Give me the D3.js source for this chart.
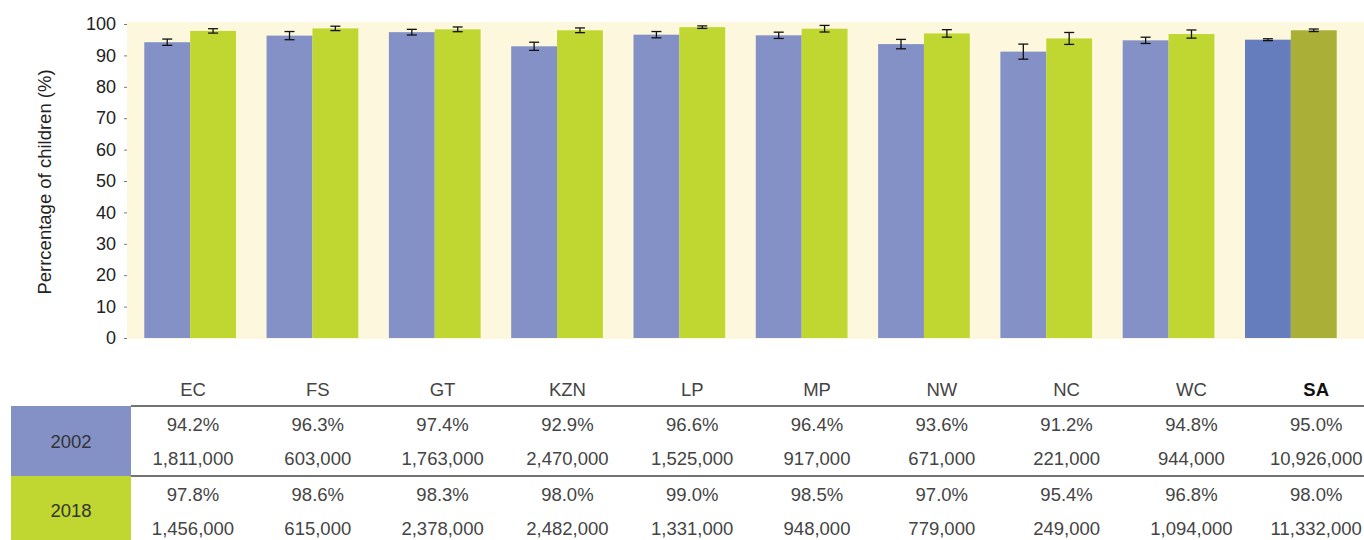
<!DOCTYPE html>
<html>
<head>
<meta charset="utf-8">
<script src="https://cdn.jsdelivr.net/npm/d3@7"></script>
<style>
  html, body { margin: 0; padding: 0; background: #ffffff; }
  svg { display: block; font-family: "Liberation Sans", Arial, Helvetica, sans-serif; }
</style>
</head>
<body>
<svg id="chart" width="1364" height="540"></svg>
<script>
// Provinces plus the national total (SA)
const provinces = ["EC", "FS", "GT", "KZN", "LP", "MP", "NW", "NC", "WC", "SA"];
const years = ["2002", "2018"];

// Percentage of children per province and year
const pct2002 = [94.2, 96.3, 97.4, 92.9, 96.6, 96.4, 93.6, 91.2, 94.8, 95.0];
const pct2018 = [97.8, 98.6, 98.3, 98.0, 99.0, 98.5, 97.0, 95.4, 96.8, 98.0];

// Confidence interval half-widths (percentage points)
const ci2002 = [1.0, 1.3, 0.9, 1.3, 1.0, 1.0, 1.5, 2.4, 1.0, 0.3];
const ci2018 = [0.7, 0.7, 0.75, 0.75, 0.4, 1.05, 1.2, 1.9, 1.3, 0.4];

// Number of children
const count2002 = [1811000, 603000, 1763000, 2470000, 1525000, 917000, 671000, 221000, 944000, 10926000];
const count2018 = [1456000, 615000, 2378000, 2482000, 1331000, 948000, 779000, 249000, 1094000, 11332000];

const yTicks = [0, 10, 20, 30, 40, 50, 60, 70, 80, 90, 100];
const yTitle = "Perrcentage of children (%)";

const colors = {
  "2002": "#8391c7", "2018": "#bfd730",
  "SA2002": "#657cbd", "SA2018": "#a9af37"
};

const rows = provinces.map((p, i) => ({
  prov: p,
  values: [
    { year: "2002", v: pct2002[i], ci: ci2002[i], n: count2002[i] },
    { year: "2018", v: pct2018[i], ci: ci2018[i], n: count2018[i] }
  ]
}));

const svg = d3.select("#chart");
const textColor = "#444";

// ---- Plot area ----
const plot = { left: 127, right: 1364, top: 22, bottom: 339 };

svg.append("rect")
  .attr("x", plot.left).attr("y", plot.top)
  .attr("width", plot.right - plot.left).attr("height", plot.bottom - plot.top)
  .attr("fill", "#fdf7dd");

const y = d3.scaleLinear().domain([0, 100]).range([338, 24]);

const x = d3.scaleBand().domain(provinces).range([129, 1352])
  .paddingInner(0.25).paddingOuter(0.125);

const xYear = d3.scaleBand().domain(years).range([0, x.bandwidth()]);

// Y axis
const yAxis = svg.append("g")
  .attr("transform", `translate(${plot.left},0)`)
  .call(d3.axisLeft(y).tickValues(yTicks).tickSize(3).tickPadding(8));
yAxis.select(".domain").remove();
yAxis.selectAll(".tick line").attr("stroke", "#777");
yAxis.selectAll(".tick text")
  .attr("fill", "#222")
  .style("font-size", "18px")
  .style("font-family", "\"Liberation Sans\", Arial, sans-serif");

svg.append("text")
  .attr("transform", "translate(51,182) rotate(-90)")
  .attr("text-anchor", "middle")
  .attr("fill", "#222")
  .style("font-size", "18.5px")
  .text(yTitle);

// Bars
const groups = svg.append("g").selectAll("g")
  .data(rows).join("g")
  .attr("transform", d => `translate(${x(d.prov)},0)`);

groups.selectAll("rect")
  .data(d => d.values.map(v => ({ ...v, prov: d.prov })))
  .join("rect")
  .attr("x", d => xYear(d.year))
  .attr("y", d => y(d.v))
  .attr("width", xYear.bandwidth())
  .attr("height", d => y(0) - y(d.v))
  .attr("fill", d => d.prov === "SA" ? colors["SA" + d.year] : colors[d.year]);

// Error bars
const capHalf = 5;
const eb = groups.selectAll("g.err")
  .data(d => d.values)
  .join("g").attr("class", "err")
  .attr("transform", d => `translate(${xYear(d.year) + xYear.bandwidth() / 2},0)`)
  .attr("stroke", "#111").attr("stroke-width", 1.3);
eb.append("line")
  .attr("x1", 0).attr("x2", 0)
  .attr("y1", d => y(d.v + d.ci)).attr("y2", d => y(d.v - d.ci));
eb.append("line")
  .attr("x1", -capHalf).attr("x2", capHalf)
  .attr("y1", d => y(d.v + d.ci)).attr("y2", d => y(d.v + d.ci));
eb.append("line")
  .attr("x1", -capHalf).attr("x2", capHalf)
  .attr("y1", d => y(d.v - d.ci)).attr("y2", d => y(d.v - d.ci));

// ---- Data table ----
const col = d3.scaleBand().domain(provinces).range([130.6, 1378.6]);
const colCenter = p => col(p) + col.bandwidth() / 2;
const fmtPct = d3.format(".1f");
const fmtN = d3.format(",");

const table = svg.append("g").style("font-size", "18.5px");

// Row header cells
const rowHeads = [
  { year: "2002", y0: 406, y1: 476, base: 448 },
  { year: "2018", y0: 476, y1: 540, base: 517 }
];
table.selectAll("rect.head")
  .data(rowHeads).join("rect").attr("class", "head")
  .attr("x", 11).attr("y", d => d.y0)
  .attr("width", 120).attr("height", d => d.y1 - d.y0)
  .attr("fill", d => colors[d.year]);
table.selectAll("text.head")
  .data(rowHeads).join("text").attr("class", "head")
  .attr("x", 71).attr("y", d => d.base)
  .attr("text-anchor", "middle").attr("fill", "#333")
  .text(d => d.year);

// Column headers
table.selectAll("text.col")
  .data(provinces).join("text").attr("class", "col")
  .attr("x", d => colCenter(d)).attr("y", 396)
  .attr("text-anchor", "middle")
  .attr("fill", d => d === "SA" ? "#111" : textColor)
  .attr("font-weight", d => d === "SA" ? "bold" : "normal")
  .text(d => d);

// Row separators
[406, 476].forEach(yy => {
  table.append("line")
    .attr("x1", 131).attr("x2", 1364)
    .attr("y1", yy).attr("y2", yy)
    .attr("stroke", "#444").attr("stroke-width", 1.5);
});

// Cell values
const cellRows = [
  { vals: pct2002, base: 431, fmt: v => fmtPct(v) + "%" },
  { vals: count2002, base: 465, fmt: v => fmtN(v) },
  { vals: pct2018, base: 501, fmt: v => fmtPct(v) + "%" },
  { vals: count2018, base: 535, fmt: v => fmtN(v) }
];
cellRows.forEach(r => {
  table.append("g").selectAll("text")
    .data(provinces).join("text")
    .attr("x", d => colCenter(d)).attr("y", r.base)
    .attr("text-anchor", "middle").attr("fill", textColor)
    .text((d, i) => r.fmt(r.vals[i]));
});
</script>
</body>
</html>
